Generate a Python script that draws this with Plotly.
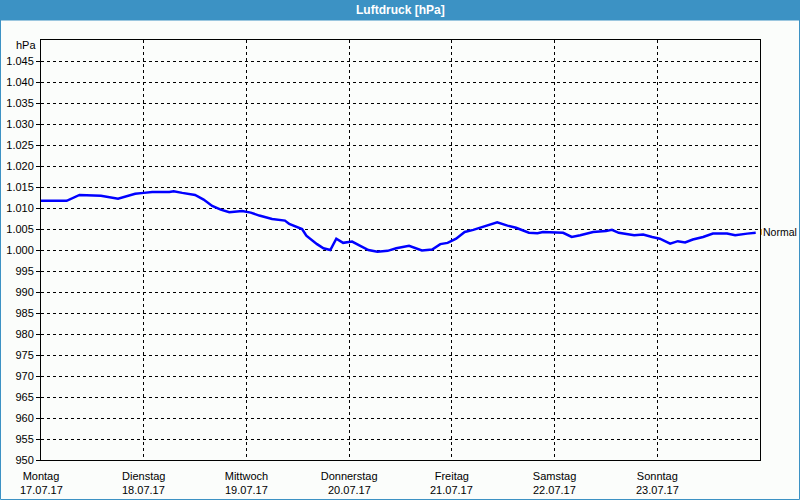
import plotly.graph_objects as go

# Data (hours since Monday 17.07.17 00:00, pressure in hPa)
hours = [0, 6, 9, 14, 18, 22, 24, 26, 30, 31, 33, 36, 38, 40, 42, 44, 47, 49,
         51, 54, 57, 58, 61, 62, 64.5, 66, 67.6, 69, 70.6, 72.7, 74.6, 76.5,
         78.6, 81, 83, 86, 89, 91.4, 93.3, 95, 97, 99, 101, 103, 105, 106.6,
         109, 111, 114, 116, 117.3, 122, 124, 126, 129, 132, 133.4, 135,
         138.6, 140.7, 142.8, 144.6, 147, 148.8, 150.5, 152.3, 154.7, 157,
         160.3, 162.2, 165, 167]
pressure = [1011.7, 1011.7, 1013.1, 1012.9, 1012.2, 1013.4, 1013.6, 1013.8,
            1013.8, 1014.0, 1013.6, 1013.1, 1012.0, 1010.5, 1009.6, 1009.0,
            1009.3, 1008.9, 1008.2, 1007.4, 1007.0, 1006.2, 1005.0, 1003.4,
            1001.4, 1000.4, 1000.0, 1002.7, 1001.7, 1002.0, 1001.0, 1000.0,
            999.6, 999.8, 1000.4, 1001.0, 999.9, 1000.1, 1001.4, 1001.7,
            1002.7, 1004.3, 1004.8, 1005.5, 1006.2, 1006.6, 1005.8, 1005.3,
            1004.1, 1004.0, 1004.3, 1004.1, 1003.1, 1003.5, 1004.3, 1004.5,
            1004.8, 1004.1, 1003.5, 1003.7, 1003.1, 1002.7, 1001.5, 1002.1,
            1001.8, 1002.5, 1003.1, 1003.9, 1003.9, 1003.5, 1003.9, 1004.1]
normal_value = 1004.3

day_names = ["Montag", "Dienstag", "Mittwoch", "Donnerstag", "Freitag", "Samstag", "Sonntag"]
day_dates = ["17.07.17", "18.07.17", "19.07.17", "20.07.17", "21.07.17", "22.07.17", "23.07.17"]
day_hours = [0, 24, 48, 72, 96, 120, 144]

y_ticks = list(range(950, 1050, 5))
y_labels = [f"{v:,}".replace(",", ".") for v in y_ticks]

FONT = "Liberation Sans"
FS = 11
W, H = 800, 500
L, R, T, B = 41, 40, 40, 40
PW, PH = W - L - R, H - T - B

def px_x(p):
    return (p - L) / PW

def px_y(p):
    return (H - B - p) / PH

fig = go.Figure()
fig.add_trace(go.Scatter(x=hours, y=pressure, mode="lines",
                         line=dict(color="#0000ff", width=2.5, shape="linear"),
                         hoverinfo="skip", showlegend=False))

annotations = [
    dict(text="<b>Luftdruck [hPa]</b>", xref="paper", yref="paper",
         x=px_x(400), y=px_y(10), showarrow=False,
         font=dict(family=FONT, size=12, color="white"),
         xanchor="center", yanchor="middle"),
    dict(text="hPa", xref="paper", yref="paper", x=px_x(38), y=px_y(45),
         showarrow=False, xanchor="right", yanchor="middle",
         font=dict(size=FS, color="black")),
    dict(text="Normal", xref="paper", yref="y", x=px_x(763), y=normal_value,
         showarrow=False, xanchor="left", yanchor="middle", xshift=-2,
         font=dict(size=10.5, color="black")),
]
for h, d in zip(day_hours, day_dates):
    annotations.append(dict(text=d, xref="x", yref="paper", x=h, y=px_y(490),
                            showarrow=False, xanchor="center", yanchor="middle",
                            font=dict(size=FS, color="black")))

fig.update_layout(
    width=W, height=H,
    margin=dict(l=L, r=R, t=T, b=B, autoexpand=False),
    paper_bgcolor="#fbfdfb", plot_bgcolor="#fbfdfb",
    font=dict(family=FONT, size=FS, color="black"),
    showlegend=False,
    xaxis=dict(range=[0, 168], tickmode="array", tickvals=day_hours,
               ticktext=day_names, automargin=False, ticklabelstandoff=6,
               showgrid=True, gridcolor="black", griddash="3px,3px", gridwidth=1,
               showline=True, linecolor="black", linewidth=1, mirror=True,
               ticks="", zeroline=False, tickfont=dict(size=FS, color="black")),
    yaxis=dict(range=[950, 1050], tickmode="array", tickvals=y_ticks, ticktext=y_labels,
               automargin=False,
               showgrid=True, gridcolor="black", griddash="3px,3px", gridwidth=1,
               showline=True, linecolor="black", linewidth=1, mirror=True,
               ticks="outside", ticklen=4, tickcolor="black",
               zeroline=False, tickfont=dict(size=FS, color="black")),
    shapes=[
        # title bar
        dict(type="rect", xref="paper", yref="paper",
             x0=px_x(0), x1=px_x(800), y0=px_y(20), y1=px_y(0),
             fillcolor="#3c92c4", line=dict(width=0), layer="above"),
        # window border
        dict(type="rect", xref="paper", yref="paper",
             x0=px_x(0.5), x1=px_x(799.5), y0=px_y(499.5), y1=px_y(20),
             fillcolor="rgba(0,0,0,0)", line=dict(color="#3c92c4", width=1)),
        # normal marker
        dict(type="line", xref="paper", yref="y",
             x0=px_x(761.5), x1=px_x(761.5), y0=normal_value - 0.7, y1=normal_value + 0.7,
             line=dict(color="#e0a040", width=1)),
    ],
    annotations=annotations,
)

fig.write_html("out.html")
